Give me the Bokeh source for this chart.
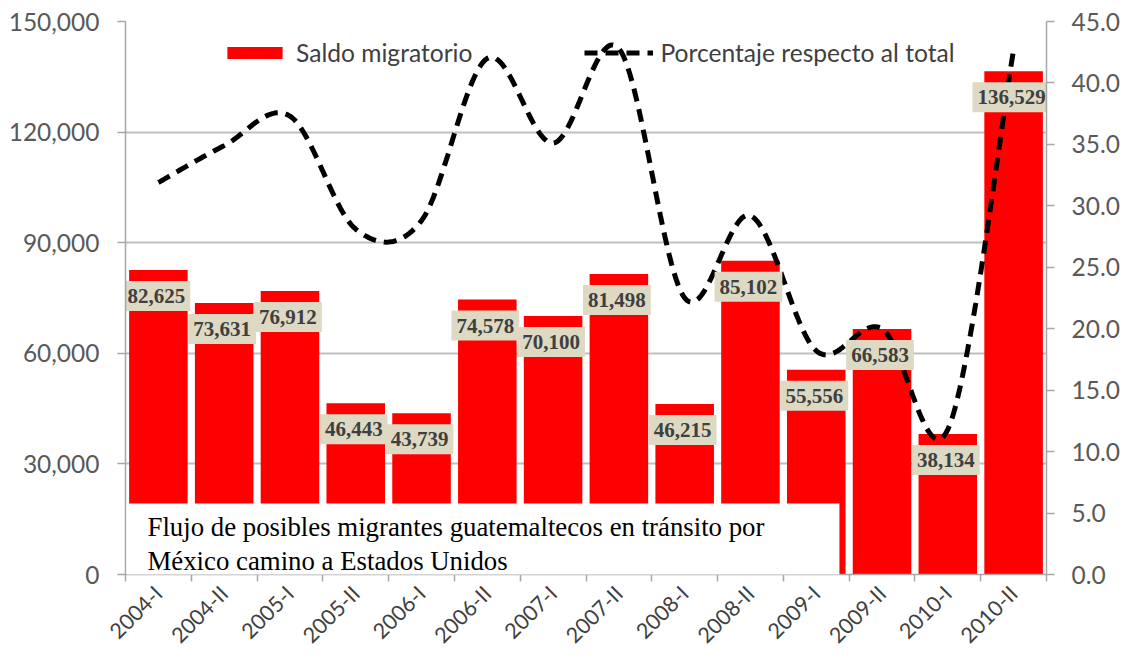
import math
import numpy as np
from bokeh.plotting import figure
from bokeh.models import (Range1d, LinearAxis, FixedTicker, NumeralTickFormatter,
                          Legend, LegendItem, Label)
from bokeh.core.properties import value
from bokeh.embed import file_html
from bokeh.resources import INLINE

# ---------------- data ----------------
periods = ["2004-I", "2004-II", "2005-I", "2005-II", "2006-I", "2006-II", "2007-I",
           "2007-II", "2008-I", "2008-II", "2009-I", "2009-II", "2010-I", "2010-II"]
saldo = [82625, 73631, 76912, 46443, 43739, 74578, 70100,
         81498, 46215, 85102, 55556, 66583, 38134, 136529]
porcentaje = [31.9, 34.9, 37.3, 28.1, 28.8, 42.0, 35.1,
              42.8, 22.5, 29.2, 18.2, 20.0, 11.8, 42.7]
left_ticks = [0, 30000, 60000, 90000, 120000, 150000]
right_ticks = [0, 5, 10, 15, 20, 25, 30, 35, 40, 45]
series_names = ["Saldo migratorio", "Porcentaje respecto al total"]
note_text = "Flujo de posibles migrantes guatemaltecos en tránsito por\nMéxico camino a Estados Unidos"

idx = list(range(len(periods)))
bar_labels = [f"{v:,}" for v in saldo]


def smooth_curve(xs, ys, n=30):
    """Catmull-Rom rendering of the series (like a spreadsheet 'smoothed line')."""
    xs = np.asarray(xs, float)
    ys = np.asarray(ys, float)
    px = np.concatenate([[xs[0]], xs, [xs[-1]]])
    py = np.concatenate([[ys[0]], ys, [ys[-1]]])
    ox, oy = [], []
    for i in range(len(xs) - 1):
        t = np.linspace(0, 1, n, endpoint=(i == len(xs) - 2))
        h00 = 2 * t**3 - 3 * t**2 + 1
        h10 = t**3 - 2 * t**2 + t
        h01 = -2 * t**3 + 3 * t**2
        h11 = t**3 - t**2
        for P, out in ((px, ox), (py, oy)):
            p0, p1, p2, p3 = P[i], P[i + 1], P[i + 2], P[i + 3]
            m1 = (p2 - p0) / 2.0
            m2 = (p3 - p1) / 2.0
            out.extend(h00 * p1 + h10 * m1 + h01 * p2 + h11 * m2)
    return ox, oy


GRAY_TXT = "#595959"
AXIS_GRAY = "#A6A6A6"

p = figure(frame_width=921, frame_height=553, output_backend="svg", toolbar_location=None,
           x_range=Range1d(-0.5, len(periods) - 0.5), y_range=Range1d(0, 150000),
           min_border_left=125, min_border_right=76, min_border_top=21, min_border_bottom=84,
           background_fill_color="white", border_fill_color="white")
p.outline_line_color = None
p.extra_y_ranges = {"pct": Range1d(0, 45)}

# grid
p.xgrid.visible = False
p.ygrid.grid_line_color = "#BFBFBF"
p.ygrid.grid_line_width = 2

# left axis
yl = p.yaxis[0]
yl.ticker = FixedTicker(ticks=left_ticks)
yl.formatter = NumeralTickFormatter(format="0,0")
yl.axis_line_color = AXIS_GRAY
yl.axis_line_width = 1.5
yl.major_tick_line_color = AXIS_GRAY
yl.major_tick_line_width = 1.5
yl.major_tick_out = 8
yl.major_tick_in = 0
yl.minor_tick_line_color = None
yl.major_label_standoff = 18
yl.major_label_text_font = "Lato"
yl.major_label_text_font_size = "24.5px"
yl.major_label_text_color = GRAY_TXT

# right axis
yr = LinearAxis(y_range_name="pct", ticker=FixedTicker(ticks=right_ticks),
                formatter=NumeralTickFormatter(format="0.0"))
yr.axis_line_color = AXIS_GRAY
yr.axis_line_width = 1.5
yr.major_tick_line_color = AXIS_GRAY
yr.major_tick_line_width = 1.5
yr.major_tick_out = 8
yr.major_tick_in = 0
yr.minor_tick_line_color = None
yr.major_label_standoff = 17
yr.major_label_text_font = "Lato"
yr.major_label_text_font_size = "24.5px"
yr.major_label_text_color = GRAY_TXT
p.add_layout(yr, "right")

# bottom axis
xa = p.xaxis[0]
xa.ticker = FixedTicker(ticks=idx, minor_ticks=[i - 0.5 for i in range(len(periods) + 1)])
xa.major_label_overrides = {i: periods[i] for i in idx}
xa.major_label_orientation = math.pi / 4
xa.major_tick_line_color = None
xa.major_tick_out = 0
xa.major_tick_in = 0
xa.minor_tick_line_color = AXIS_GRAY
xa.minor_tick_line_width = 1.5
xa.minor_tick_out = 7
xa.minor_tick_in = 0
xa.axis_line_color = AXIS_GRAY
xa.axis_line_width = 1.5
xa.major_label_standoff = 8
xa.major_label_text_font = "Lato"
xa.major_label_text_font_size = "21.5px"
xa.major_label_text_color = "#404040"

# bars
bars = p.vbar(x=idx, top=saldo, width=0.89, fill_color="#FF0000", line_color=None)

# smoothed percentage line
sx, sy = smooth_curve(idx, porcentaje)
line = p.line(sx, sy, y_range_name="pct", line_color="black", line_width=5,
              line_dash="13 8")

# data labels
p.text(x=idx, y=saldo, text=bar_labels, x_offset=-2, y_offset=26, text_align="center",
       text_baseline="middle", text_font=value("Liberation Serif"), text_font_style="bold",
       text_font_size="21px", text_color="#3F3F3F", background_fill_color="#DDD9C3",
       padding=dict(left=5, right=5, top=8, bottom=8))

# legend
legend = Legend(items=[LegendItem(label=series_names[0], renderers=[bars]),
                       LegendItem(label=series_names[1], renderers=[line])],
                orientation="horizontal", location=(95, 507),
                border_line_color=None, background_fill_alpha=0,
                padding=0, margin=0, spacing=112, label_standoff=7,
                glyph_width=69, glyph_height=15,
                label_text_font="Lato", label_text_font_size="24.6px",
                label_text_color="#404040")
p.add_layout(legend)

# note box
note = Label(x=-0.485, y=19259, text=note_text, text_align="left", text_baseline="top",
             text_font="Liberation Serif", text_font_size="26.8px", text_color="black",
             text_line_height=1.12, background_fill_color="white", level="overlay",
             padding=dict(left=21, right=75, top=9, bottom=12))
p.add_layout(note)

open("out.html", "w").write(file_html(p, INLINE))
